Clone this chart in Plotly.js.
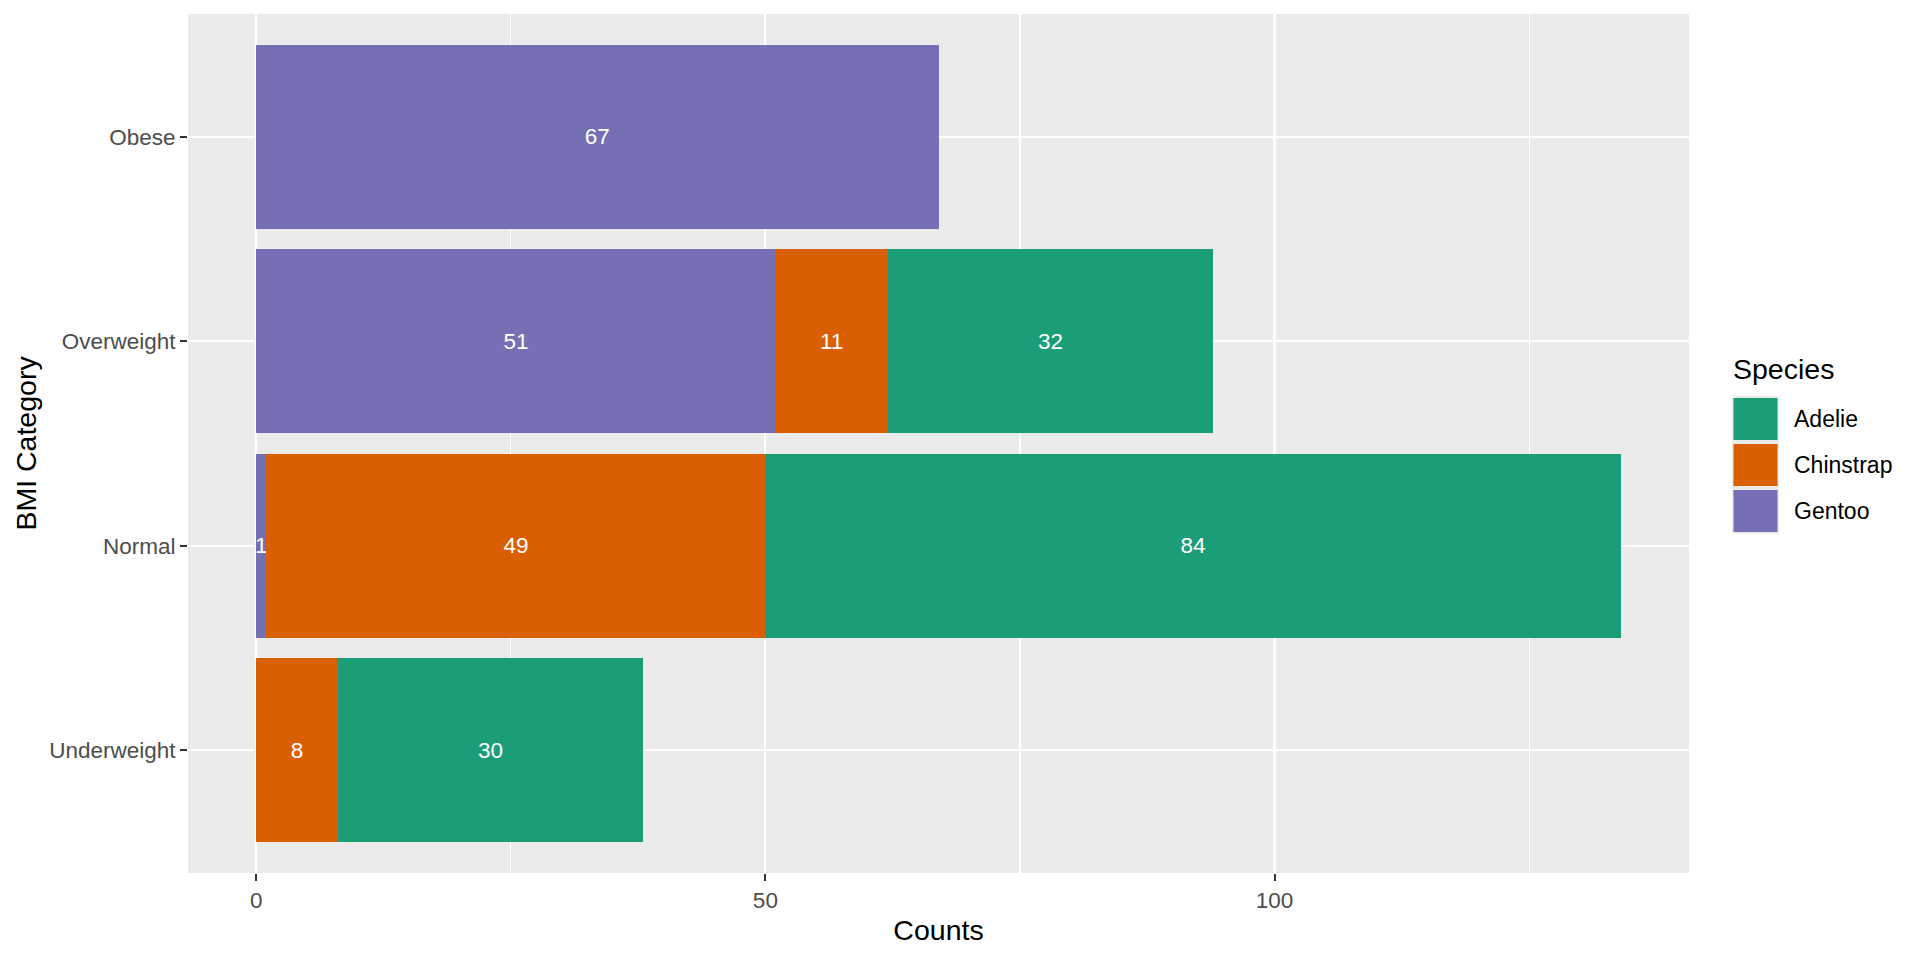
<!DOCTYPE html>
<html>
<head>
<meta charset="utf-8">
<script src="https://cdn.plot.ly/plotly-3.0.1.min.js"></script>
<style>html,body{margin:0;padding:0;background:#fff;}#chart{width:1920px;height:960px;}</style>
</head>
<body>
<div id="chart"></div>
<script>
// ---- data ----
const categories = ['Underweight', 'Normal', 'Overweight', 'Obese'];
const species = ['Adelie', 'Chinstrap', 'Gentoo'];
const speciesColors = ['#1B9E77', '#D95F02', '#7570B3'];
const adelie = [30, 84, 32, 0];
const chinstrap = [8, 49, 11, 0];
const gentoo = [0, 1, 51, 67];
const xTickVals = [0, 50, 100];
const xTickText = ['0', '50', '100'];

// ---- layout helpers ----
const W = 1920, H = 960;
const L = 188, R = 1689, T = 14, B = 873;
const px2x = p => (p - L) / (R - L);
const px2y = p => (B - p) / (B - T);
const FONT = 'Liberation Sans, Arial, sans-serif';

function barTrace(name, vals, color) {
  return {
    type: 'bar', orientation: 'h', name: name,
    x: vals, y: categories,
    marker: {color: color, line: {width: 0}},
    text: vals.map(v => v > 0 ? String(v) : ''),
    texttemplate: '%{text}',
    textposition: 'inside', insidetextanchor: 'middle',
    constraintext: 'none', textangle: 0,
    textfont: {family: FONT, size: 22.5, color: '#FFFFFF'},
    hoverinfo: 'skip', showlegend: false
  };
}

// stacking order from zero: Gentoo, Chinstrap, Adelie
const data = [
  barTrace('Gentoo', gentoo, speciesColors[2]),
  barTrace('Chinstrap', chinstrap, speciesColors[1]),
  barTrace('Adelie', adelie, speciesColors[0])
];

// custom ggplot-style legend
const shapes = [];
const annotations = [];
annotations.push({
  xref: 'paper', yref: 'paper', x: px2x(1731), y: px2y(369),
  xanchor: 'left', yanchor: 'middle', showarrow: false,
  text: 'Species', font: {family: FONT, size: 28.5, color: '#000000'}
});
shapes.push({type: 'rect', xref: 'paper', yref: 'paper', layer: 'above',
  x0: px2x(1732), x1: px2x(1779), y0: px2y(396), y1: px2y(534),
  fillcolor: '#EBEBEB', line: {width: 0}});
species.forEach((s, i) => {
  const top = 398 + i * 46;
  shapes.push({type: 'rect', xref: 'paper', yref: 'paper', layer: 'above',
    x0: px2x(1733.5), x1: px2x(1777.5), y0: px2y(top), y1: px2y(top + 42),
    fillcolor: speciesColors[i], line: {width: 0}});
  annotations.push({
    xref: 'paper', yref: 'paper', x: px2x(1792), y: px2y(top + 21),
    xanchor: 'left', yanchor: 'middle', showarrow: false,
    text: s, font: {family: FONT, size: 23, color: '#000000'}
  });
});

const layout = {
  width: W, height: H,
  margin: {l: L, r: W - R, t: T, b: H - B, pad: 0},
  paper_bgcolor: '#FFFFFF', plot_bgcolor: '#EBEBEB',
  barmode: 'stack', bargap: 0.1,
  showlegend: false,
  font: {family: FONT},
  xaxis: {
    range: [-6.7, 140.7], tickvals: xTickVals, ticktext: xTickText,
    showgrid: true, gridcolor: '#FFFFFF', gridwidth: 2.2,
    minor: {tickvals: [25, 75, 125], showgrid: true, gridcolor: '#FFFFFF', gridwidth: 1.1, ticks: ''},
    zeroline: false, showline: false,
    ticks: 'outside', ticklen: 7, tickwidth: 2, tickcolor: '#333333',
    tickfont: {family: FONT, size: 22.5, color: '#4D4D4D'},
    title: {text: 'Counts', font: {family: FONT, size: 28.5, color: '#000000'}, standoff: 8},
    automargin: false, fixedrange: true
  },
  yaxis: {
    type: 'category', categoryorder: 'array', categoryarray: categories,
    range: [-0.6, 3.6],
    showgrid: true, gridcolor: '#FFFFFF', gridwidth: 2.2,
    zeroline: false, showline: false,
    ticks: 'outside', ticklen: 7, tickwidth: 2, tickcolor: '#333333',
    tickfont: {family: FONT, size: 22.5, color: '#4D4D4D'},
    title: {text: 'BMI Category', font: {family: FONT, size: 28.5, color: '#000000'}, standoff: 4},
    automargin: false, fixedrange: true
  },
  shapes: shapes,
  annotations: annotations
};

Plotly.newPlot('chart', data, layout, {displayModeBar: false, staticPlot: true});
</script>
</body>
</html>
